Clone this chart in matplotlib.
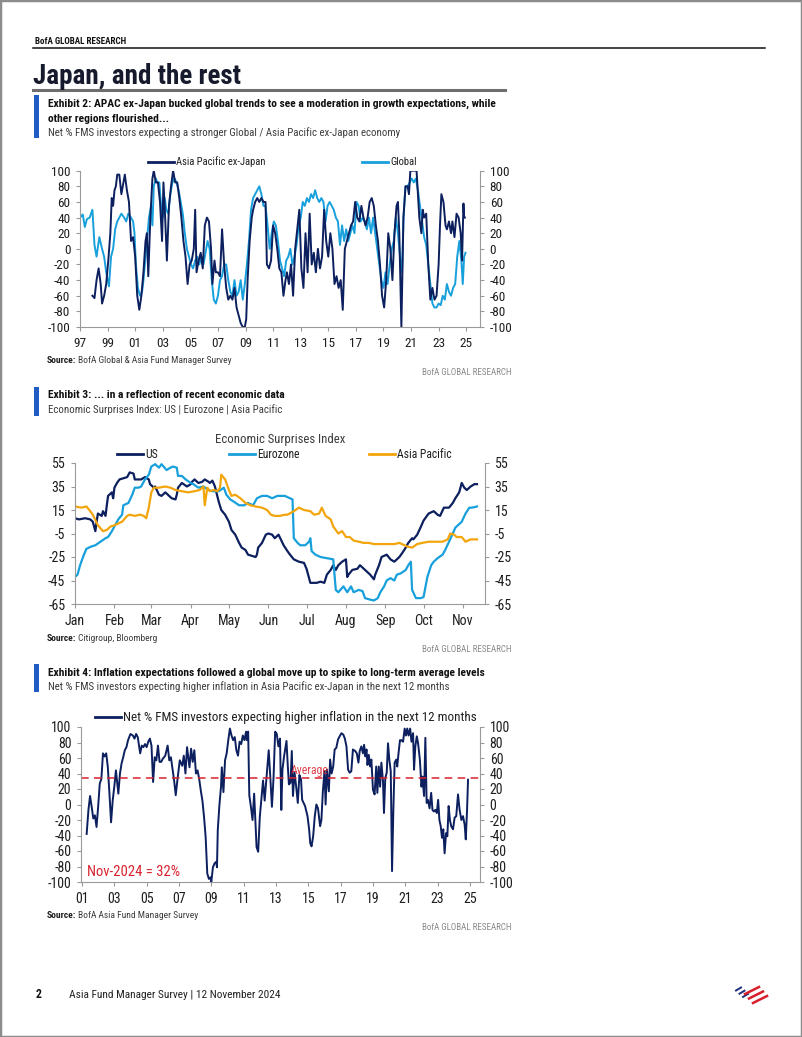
import matplotlib
matplotlib.use('Agg')
import matplotlib.pyplot as plt
from matplotlib.lines import Line2D
from matplotlib.patches import Rectangle

# ---------------- DATA ----------------
# Exhibit 2: Net % expecting stronger economy
GLOBAL_YR = [1997.0, 1997.2, 1997.35, 1997.5, 1997.7, 1997.9, 1998.05, 1998.2, 1998.4, 1998.6, 1998.75, 1998.9,
             1999.1, 1999.25, 1999.4, 1999.55, 1999.7, 1999.85, 2000.0, 2000.2, 2000.35, 2000.5, 2000.7, 2000.85,
             2000.95, 2001.05, 2001.2, 2001.35, 2001.5, 2001.6, 2001.75, 2001.9, 2002.0, 2002.15, 2002.25, 2002.35,
             2002.5, 2002.6, 2002.75, 2002.9, 2003.0, 2003.15, 2003.25, 2003.4, 2003.55, 2003.7, 2003.85, 2004.0,
             2004.15, 2004.3, 2004.45, 2004.6, 2004.75, 2004.9, 2005.05, 2005.2, 2005.35, 2005.5, 2005.65, 2005.8,
             2005.95, 2006.1, 2006.25, 2006.4, 2006.55, 2006.7, 2006.85, 2007.0, 2007.15, 2007.3, 2007.45, 2007.6,
             2007.75, 2007.9, 2008.05, 2008.2, 2008.35, 2008.5, 2008.65, 2008.8, 2008.95, 2009.1, 2009.25, 2009.4,
             2009.55, 2009.7, 2009.85, 2010.0, 2010.15, 2010.3, 2010.45, 2010.6, 2010.75, 2010.9, 2011.05, 2011.2,
             2011.35, 2011.5, 2011.65, 2011.8, 2011.95, 2012.1, 2012.25, 2012.4, 2012.55, 2012.7, 2012.85, 2013.0,
             2013.15, 2013.3, 2013.45, 2013.6, 2013.75, 2013.9, 2014.05, 2014.2, 2014.35, 2014.5, 2014.65, 2014.8,
             2014.95, 2015.1, 2015.25, 2015.4, 2015.55, 2015.7, 2015.85, 2016.0, 2016.15, 2016.3, 2016.45, 2016.6,
             2016.75, 2016.9, 2017.05, 2017.2, 2017.35, 2017.5, 2017.65, 2017.8, 2017.95, 2018.1, 2018.25, 2018.4,
             2018.55, 2018.7, 2018.85, 2019.0, 2019.15, 2019.3, 2019.45, 2019.6, 2019.75, 2019.9, 2020.05, 2020.2,
             2020.35, 2020.45, 2020.6, 2020.75, 2020.9, 2021.05, 2021.2, 2021.35, 2021.5, 2021.65, 2021.8, 2021.95,
             2022.1, 2022.25, 2022.4, 2022.55, 2022.7, 2022.85, 2023.0, 2023.15, 2023.3, 2023.45, 2023.6, 2023.75,
             2023.9, 2024.05, 2024.2, 2024.35, 2024.5, 2024.65, 2024.75, 2024.85, 2024.95]
GLOBAL_VAL = [40, 44, 28, 38, 40, 50, 5, -10, 15, 0, -10, -30,
              -48, -10, 0, 25, 35, 40, 45, 40, 35, 45, 40, 35,
              20, -20, -50, -60, -55, -40, -10, 20, 40, 55, 30, 80,
              90, 85, 85, 50, 40, 65, 50, 45, 70, 85, 90, 85,
              75, 60, 45, 20, 0, -10, -20, -25, -15, -10, -20, -10,
              -20, -5, 10, 0, -40, -65, -70, -60, -40, -35, -20, -20,
              -40, -55, -60, -40, -60, -55, -40, -65, -45, -20, 10, 50,
              65, 70, 75, 80, 70, 55, 55, 30, 0, 20, 35, 30,
              10, -15, -25, -35, -15, -10, 0, -20, -10, 5, 30, 40,
              60, 55, 65, 60, 70, 65, 75, 65, 60, 65, 60, 35,
              55, 60, 55, 50, 40, 35, 5, 30, 10, 25, 10, 20,
              30, 20, 60, 55, 35, 40, 35, 25, 40, 20, 40, 20,
              0, -20, -40, -50, -30, -45, -20, 0, 10, 40, 20, -10,
              -30, 40, 80, 80, 85, 90, 85, 90, 75, 55, 35, 15,
              5, -20, -45, -70, -75, -75, -70, -72, -60, -65, -45, -55,
              -60, -50, -45, -10, 10, -15, -45, -10, -5]

APAC_YR = [1997.9, 1998.05, 1998.2, 1998.35, 1998.5, 1998.6, 1998.75, 1998.9, 1999.05, 1999.2, 1999.3, 1999.4,
           1999.5, 1999.6, 1999.7, 1999.85, 2000.0, 2000.1, 2000.25, 2000.4, 2000.55, 2000.7, 2000.85, 2001.0,
           2001.15, 2001.3, 2001.45, 2001.6, 2001.75, 2001.85, 2001.95, 2002.1, 2002.25, 2002.35, 2002.5, 2002.65,
           2002.8, 2002.95, 2003.05, 2003.15, 2003.3, 2003.45, 2003.6, 2003.75, 2003.9, 2004.05, 2004.2, 2004.35,
           2004.5, 2004.65, 2004.8, 2004.95, 2005.1, 2005.25, 2005.35, 2005.45, 2005.6, 2005.75, 2005.9, 2006.05,
           2006.2, 2006.35, 2006.5, 2006.6, 2006.75, 2006.85, 2007.0, 2007.15, 2007.3, 2007.45, 2007.6, 2007.75,
           2007.9, 2008.05, 2008.2, 2008.35, 2008.5, 2008.65, 2008.8, 2008.95, 2009.05, 2009.15, 2009.3, 2009.45,
           2009.55, 2009.7, 2009.85, 2010.0, 2010.15, 2010.3, 2010.45, 2010.55, 2010.7, 2010.85, 2011.0, 2011.15,
           2011.3, 2011.45, 2011.6, 2011.75, 2011.9, 2012.0, 2012.15, 2012.3, 2012.45, 2012.6, 2012.75, 2012.9,
           2013.05, 2013.2, 2013.35, 2013.5, 2013.65, 2013.8, 2013.95, 2014.1, 2014.25, 2014.4, 2014.55, 2014.7,
           2014.85, 2015.0, 2015.15, 2015.3, 2015.45, 2015.6, 2015.75, 2015.9, 2016.05, 2016.2, 2016.35, 2016.5,
           2016.65, 2016.8, 2016.95, 2017.1, 2017.25, 2017.4, 2017.55, 2017.7, 2017.85, 2018.0, 2018.15, 2018.3,
           2018.45, 2018.6, 2018.75, 2018.9, 2019.05, 2019.2, 2019.35, 2019.5, 2019.65, 2019.8, 2019.95, 2020.05,
           2020.15, 2020.3, 2020.45, 2020.6, 2020.75, 2020.85, 2020.95, 2021.1, 2021.25, 2021.4, 2021.5, 2021.6,
           2021.75, 2021.85, 2021.95, 2022.1, 2022.25, 2022.4, 2022.55, 2022.7, 2022.85, 2023.0, 2023.1, 2023.2,
           2023.35, 2023.5, 2023.6, 2023.75, 2023.9, 2024.0, 2024.15, 2024.3, 2024.45, 2024.6, 2024.7, 2024.8,
           2024.85, 2024.9]
APAC_VAL = [-60, -63, -40, -25, -45, -70, -60, -45, -15, 20, 65, 55,
            75, 80, 95, 95, 70, 80, 95, 75, 60, 10, 15, -10,
            -60, -78, -60, -30, 10, 20, -35, 40, 90, 100, 85, 85,
            60, 10, 85, 50, -15, 55, 80, 100, 85, 85, 65, 40,
            10, -10, -45, -20, -15, 0, 50, -30, -15, -5, -25, 30,
            40, 35, 0, -45, -15, -30, -30, -35, 25, -20, -50, -65,
            -60, -65, -50, -75, -85, -95, -100, -100, -90, -40, 10, 40,
            50, 60, 65, 60, 65, 60, 60, -20, -25, -15, 30, 20,
            0, -25, -30, -60, -40, -30, -45, -20, -60, 0, 25, 50,
            -25, -50, 20, -30, 45, -20, -5, -30, 0, -25, -10, 50,
            10, -10, 20, 0, -45, -35, -50, -40, -78, 0, 10, 20,
            30, 35, 60, 40, 35, 55, 40, 30, 40, 60, 65, 55,
            30, 10, -20, -60, -75, -40, 20, 0, -40, 20, 55, 60,
            20, -100, 40, 80, 80, 70, 100, 100, 100, 100, 70, 40,
            20, 50, 40, 45, -20, -65, -50, -65, -60, -20, 30, 70,
            60, 30, 25, 35, 20, 35, 15, 45, 40, 20, -15, 58,
            40, 40]

# Exhibit 3: Economic Surprises Index (day of year 2024)
MONTHS = ['Jan', 'Feb', 'Mar', 'Apr', 'May', 'Jun', 'Jul', 'Aug', 'Sep', 'Oct', 'Nov']
MONTH_DAY = [0, 31, 60, 91, 121, 152, 182, 213, 244, 274, 305]
US_DAY = [0, 3, 8, 12, 14, 16, 17, 18, 21, 22, 24, 25, 26, 29, 30, 31, 33, 35, 38, 41, 43, 46, 47, 52, 55, 58,
          59, 62, 63, 66, 68, 71, 73, 76, 79, 80, 81, 84, 88, 91, 92, 94, 97, 100, 102, 105, 106, 108, 110,
          113, 115, 118, 121, 123, 126, 129, 131, 134, 136, 142, 143, 144, 147, 150, 152, 155, 157, 160,
          164, 167, 169, 172, 176, 180, 182, 185, 190, 193, 196, 198, 201, 203, 205, 207, 210, 213, 214, 215,
          218, 222, 224, 227, 230, 232, 235, 236, 239, 241, 245, 248, 251, 255, 257, 260, 262, 265, 266, 269,
          272, 274, 278, 282, 285, 287, 290, 294, 297, 299, 302, 304, 306, 308, 311, 314, 316]
US_VAL = [8, 7, 8, 7, 5, -3, 5, 12, 10, 14, 10, 19, 27, 30, 25, 34, 38, 41, 42, 43, 47, 46, 41, 41, 43, 41,
          37, 34, 35, 28, 27, 30, 28, 25, 24, 28, 34, 38, 35, 37, 39, 41, 38, 39, 41, 39, 38, 40, 35,
          22, 15, 11, 5, -2, -6, -13, -17, -19, -23, -25, -23, -17, -13, -6, -5, -6, -9, -6,
          -15, -20, -23, -27, -29, -30, -35, -47, -47, -46, -47, -40, -36, -32, -36, -32, -29, -27, -42, -40,
          -36, -35, -32, -35, -38, -40, -44, -40, -32, -25, -23, -27, -29, -25, -22, -17, -13, -9, -10, -6,
          1, 6, 12, 14, 11, 10, 17, 17, 21, 25, 30, 38, 34, 32, 35, 37, 37]
EZ_DAY = [0, 2, 4, 7, 9, 13, 16, 20, 24, 26, 29, 31, 34, 37, 38, 42, 45, 47, 50, 52, 55, 58, 60, 63, 66, 68,
          72, 75, 77, 80, 81, 84, 87, 91, 93, 97, 101, 105, 108, 113, 117, 119, 122, 125, 129, 133, 136, 140,
          143, 147, 151, 155, 159, 163, 165, 169, 171, 172, 175, 177, 181, 184, 185, 186, 189, 193, 198, 203,
          205, 207, 211, 214, 217, 219, 223, 226, 228, 231, 235, 238, 240, 243, 245, 248, 251, 253, 256, 260,
          262, 264, 265, 268, 272, 274, 277, 280, 282, 285, 289, 291, 294, 297, 299, 302, 304, 307, 310, 312, 316]
EZ_VAL = [-42, -40, -32, -23, -18, -16, -15, -12, -9, -8, -3, 1, 7, 11, 19, 21, 28, 34, 34, 35, 41, 45, 52, 54,
          51, 54, 49, 51, 52, 51, 44, 44, 41, 38, 37, 34, 35, 32, 31, 31, 34, 28, 24, 22, 19, 19, 21, 19,
          25, 27, 27, 25, 27, 27, 27, 25, 24, -9, -13, -15, -15, -12, -9, -20, -23, -25, -26, -27,
          -53, -55, -50, -55, -50, -55, -53, -54, -60, -61, -62, -60, -55, -50, -45, -43, -45, -40, -39, -36,
          -32, -29, -53, -60, -60, -59, -42, -32, -29, -26, -23, -19, -12, -5, 0, 3, 5, 12, 17, 17, 18]
AP_DAY = [0, 5, 9, 12, 14, 18, 22, 25, 28, 31, 37, 41, 43, 47, 51, 54, 56, 58, 60, 62, 66, 71, 75, 79, 84, 89,
          94, 98, 101, 102, 104, 106, 109, 112, 114, 115, 118, 121, 123, 126, 130, 134, 138, 142, 147, 151,
          154, 157, 161, 165, 167, 172, 176, 180, 185, 188, 192, 194, 197, 201, 203, 207, 210, 213, 216, 219,
          223, 227, 231, 235, 240, 245, 251, 255, 257, 261, 265, 269, 273, 278, 284, 289, 293, 295, 298, 300,
          304, 307, 311, 316]
AP_VAL = [18, 17, 18, 14, 11, 2, -3, -2, 1, 2, 5, 10, 11, 10, 11, 10, 8, 17, 30, 34, 34, 35, 34, 32, 31, 30,
          31, 32, 35, 19, 34, 31, 32, 31, 34, 45, 41, 32, 27, 28, 25, 21, 19, 18, 17, 15,
          11, 10, 10, 11, 11, 14, 17, 15, 14, 11, 12, 17, 10, 7, 1, -5, -3, -8, -8, -11,
          -12, -13, -13, -14, -14, -14, -14, -13, -14, -16, -17, -14, -13, -12, -12, -12, -10, -5, -6, -8,
          -8, -12, -10, -10]

# Exhibit 4: Net % expecting higher inflation
INF_YR = [2001.29, 2001.4, 2001.5, 2001.6, 2001.7, 2001.8, 2001.9, 2002.0, 2002.1, 2002.2, 2002.3, 2002.4,
          2002.5, 2002.6, 2002.7, 2002.8, 2002.9, 2003.0, 2003.1, 2003.25, 2003.35, 2003.45, 2003.55, 2003.65,
          2003.75, 2003.85, 2004.0, 2004.15, 2004.25, 2004.35, 2004.45, 2004.6, 2004.7, 2004.8, 2004.9, 2005.0,
          2005.1, 2005.2, 2005.3, 2005.4, 2005.5, 2005.6, 2005.7, 2005.8, 2005.9, 2006.0, 2006.15, 2006.3,
          2006.4, 2006.5, 2006.6, 2006.7, 2006.8, 2006.9, 2007.05, 2007.2, 2007.3, 2007.4, 2007.5, 2007.65,
          2007.75, 2007.85, 2007.95, 2008.05, 2008.15, 2008.25, 2008.35, 2008.45, 2008.55, 2008.65, 2008.75,
          2008.85, 2008.95, 2009.0, 2009.1, 2009.2, 2009.3, 2009.35, 2009.4, 2009.5, 2009.6, 2009.65, 2009.75,
          2009.85, 2009.95, 2010.05, 2010.15, 2010.25, 2010.35, 2010.45, 2010.55, 2010.65, 2010.75, 2010.85,
          2010.95, 2011.05, 2011.15, 2011.2, 2011.28, 2011.35, 2011.45, 2011.55, 2011.65, 2011.8, 2011.9,
          2012.0, 2012.2, 2012.3, 2012.4, 2012.55, 2012.65, 2012.75, 2012.85, 2012.95, 2013.05, 2013.15,
          2013.25, 2013.33, 2013.4, 2013.5, 2013.65, 2013.72, 2013.8, 2013.9, 2013.98, 2014.05, 2014.15,
          2014.25, 2014.35, 2014.45, 2014.55, 2014.62, 2014.8, 2014.95, 2015.05, 2015.12, 2015.2, 2015.3,
          2015.4, 2015.5, 2015.6, 2015.73, 2015.81, 2015.9, 2016.0, 2016.07, 2016.15, 2016.27, 2016.35,
          2016.44, 2016.54, 2016.63, 2016.73, 2016.84, 2016.94, 2017.05, 2017.17, 2017.26, 2017.36, 2017.46,
          2017.56, 2017.66, 2017.76, 2017.9, 2018.0, 2018.1, 2018.18, 2018.28, 2018.38, 2018.45, 2018.53,
          2018.6, 2018.66, 2018.74, 2018.82, 2018.9, 2019.0, 2019.1, 2019.2, 2019.27, 2019.36, 2019.44,
          2019.52, 2019.62, 2019.68, 2019.76, 2019.85, 2019.93, 2020.01, 2020.1, 2020.18, 2020.26, 2020.34,
          2020.44, 2020.5, 2020.58, 2020.67, 2020.75, 2020.86, 2020.96, 2021.04, 2021.12, 2021.2, 2021.3,
          2021.38, 2021.48, 2021.54, 2021.62, 2021.71, 2021.79, 2021.9, 2022.0, 2022.06, 2022.16, 2022.24,
          2022.32, 2022.4, 2022.5, 2022.6, 2022.68, 2022.77, 2022.86, 2022.95, 2023.03, 2023.11, 2023.19,
          2023.27, 2023.35, 2023.43, 2023.52, 2023.6, 2023.68, 2023.76, 2023.84, 2023.95, 2024.05, 2024.15,
          2024.26, 2024.36, 2024.47, 2024.57, 2024.67, 2024.74, 2024.82, 2024.88]
INF_VAL = [-38, -7, 11, -3, -18, -14, -29, -3, 27, 33, 66, 62,
           66, 48, 14, -23, 5, 23, 44, 14, 40, 53, 61, 70,
           74, 83, 91, 89, 85, 91, 87, 66, 76, 74, 78, 74,
           81, 85, 76, 29, 61, 57, 76, 55, 55, 59, 63, 76,
           57, 61, 46, 31, 12, 31, 57, 50, 63, 40, 74, 48,
           72, 55, 70, 40, 44, 33, 18, 5, -16, -42, -89,
           -96, -94, -100, -81, -76, -74, -81, -33, -1, 23, 48, 16,
           57, 66, 83, 98, 89, 83, 87, 70, 63, 81, 78,
           89, 83, 94, 83, 94, 12, -3, -20, 14, -55, -61,
           -16, 31, 5, 31, 70, 35, -3, 35, 94, 91, 75,
           85, -7, 45, 62, 82, 54, 26, 28, 69, 11, 41,
           23, 2, 38, 32, 6, -2, -15, -32, -50, -54, -41,
           -15, 0, -5, -28, -20, 17, 43, 0, 45, 17, 58,
           40, 49, 71, 73, 84, 88, 92, 90, 85, 75, 45,
           41, 43, 71, 69, 66, 54, 69, 75, 66, 77, 62,
           71, 51, 64, 49, 58, 19, 13, 49, 15, 49, 23,
           54, 30, -11, 34, 41, 79, 58, 43, -86, -7, 54,
           58, 49, 66, 83, 83, 81, 98, 89, 98, 89, 98,
           81, 92, 45, 75, 88, 79, 58, 23, 36, 11, 86,
           2, 6, -5, 15, -7, -9, -7, -11, 6, -20, -28,
           -43, -32, -63, -37, -41, -2, -20, -28, -32, -17, -15,
           13, -7, -20, -15, -26, -45, -7, 32]
INF_AVERAGE = 34
LAST_LABEL = 'Nov-2024 = 32%'

assert len(GLOBAL_YR) == len(GLOBAL_VAL)
assert len(APAC_YR) == len(APAC_VAL)
assert len(US_DAY) == len(US_VAL)
assert len(EZ_DAY) == len(EZ_VAL)
assert len(AP_DAY) == len(AP_VAL)
assert len(INF_YR) == len(INF_VAL)

# ---------------- STYLE ----------------
plt.rcParams['font.family'] = ['Roboto Condensed', 'DejaVu Sans']

NAVY = '#0c1f5e'
LIGHT = '#17a0dc'
ORANGE = '#f2a50c'
RED = '#d9232e'
GRAY = '#9a9a9a'
TXT = '#1e1e1e'
SUB = '#3c3c3c'
BAR = '#1f5cc4'

W, H = 802, 1037
fig = plt.figure(figsize=(W / 100, H / 100), dpi=100)


def fx(x):
    return x / W


def fy(y):
    return 1 - y / H


def rect(l, t, r, b):
    return [l / W, 1 - b / H, (r - l) / W, (b - t) / H]


def hline(x0, x1, y, color, lw):
    fig.add_artist(Line2D([fx(x0), fx(x1)], [fy(y), fy(y)], color=color, lw=lw))


def legend_item(x0, x1, y, color, text, fs):
    fig.add_artist(Line2D([fx(x0), fx(x1)], [fy(y), fy(y)], color=color, lw=2.0))
    fig.text(fx(x1 + 2), fy(y), text, fontsize=fs, color=TXT, va='center', ha='left')


renderer = fig.canvas.get_renderer()


def source(y, text):
    t = fig.text(fx(47), fy(y), 'Source:', fontsize=6.8, weight='bold', color=TXT, va='center')
    bb = t.get_window_extent(renderer=renderer)
    fig.text((bb.x1 + 2) / W, fy(y), text, fontsize=6.8, color=SUB, va='center')


def bofa_tag(y):
    fig.text(fx(512), fy(y), 'BofA GLOBAL RESEARCH', fontsize=6.5, color='#8a8a8a', va='center', ha='right')


def exhibit_header(top, bottom, lines, sub):
    fig.add_artist(Rectangle((fx(34), fy(bottom)), 5 / W, (bottom - top) / H, color=BAR, lw=0))
    for yy, s in lines:
        fig.text(fx(48), fy(yy), s, fontsize=8.25, weight='bold', color='#111111', va='center')
    fig.text(fx(48), fy(sub[0]), sub[1], fontsize=7.8, color=SUB, va='center')


def style_axes(ax, fs):
    ax.spines['top'].set_visible(False)
    for s in ['left', 'right', 'bottom']:
        ax.spines[s].set_color(GRAY)
        ax.spines[s].set_linewidth(0.8)
    ax.tick_params(axis='both', colors=GRAY, labelcolor=TXT, labelsize=fs, length=3, width=0.8, direction='out')
    ax.tick_params(axis='y', left=True, right=True, labelleft=True, labelright=True, pad=4)
    ax.tick_params(axis='x', pad=4)


# ---------------- PAGE ----------------
fig.add_artist(Rectangle((0, 0), 1, 1, transform=fig.transFigure, fill=False, edgecolor='#8c8c8c', lw=2.5))
fig.text(fx(35), fy(41.5), 'BofA GLOBAL RESEARCH', fontsize=6.5, weight='bold', color='#111111', va='center')
hline(33, 765, 47.5, '#111111', 1.1)
fig.text(fx(33), fy(76), 'Japan, and the rest', fontsize=19.5, weight='bold', color='#161a2c', va='center')
hline(33, 505, 89.5, '#6e6e6e', 2.2)

# ---------------- EXHIBIT 2 ----------------
exhibit_header(95, 138, [(103.5, 'Exhibit 2: APAC ex-Japan bucked global trends to see a moderation in growth expectations, while'),
                         (118.5, 'other regions flourished...')],
               (132.5, 'Net % FMS investors expecting a stronger Global / Asia Pacific ex-Japan economy'))

ax1 = fig.add_axes(rect(80, 170.7, 480, 327))
ax1.plot(GLOBAL_YR, GLOBAL_VAL, color=LIGHT, lw=1.4)
ax1.plot(APAC_YR, APAC_VAL, color=NAVY, lw=1.4)
ax1.set_xlim(1997, 2026)
ax1.set_ylim(-100, 100)
yt1 = list(range(-100, 101, 20))
ax1.set_yticks(yt1)
ax1.set_yticklabels([str(v) for v in yt1])
xt1 = list(range(1997, 2026, 2))
ax1.set_xticks(xt1)
ax1.set_xticklabels(['%02d' % (v % 100) for v in xt1])
style_axes(ax1, 9.5)
legend_item(148, 174, 161.5, NAVY, 'Asia Pacific ex-Japan', 7.6)
legend_item(362, 388, 161.5, LIGHT, 'Global', 7.6)
source(360.5, 'BofA Global & Asia Fund Manager Survey')
bofa_tag(372.5)

# ---------------- EXHIBIT 3 ----------------
exhibit_header(387, 416, [(395.5, 'Exhibit 3: ... in a reflection of recent economic data')],
               (409.5, 'Economic Surprises Index: US | Eurozone | Asia Pacific'))

ax2 = fig.add_axes(rect(75, 463, 485, 604))
ax2.plot(US_DAY, US_VAL, color=NAVY, lw=1.6)
ax2.plot(EZ_DAY, EZ_VAL, color=LIGHT, lw=1.6)
ax2.plot(AP_DAY, AP_VAL, color=ORANGE, lw=1.6)
ax2.set_xlim(0, 322.3)
ax2.set_ylim(-65, 55)
yt2 = list(range(-65, 56, 20))
ax2.set_yticks(yt2)
ax2.set_yticklabels([str(v) for v in yt2])
ax2.set_xticks(MONTH_DAY)
ax2.set_xticklabels(MONTHS)
style_axes(ax2, 10)
fig.text(fx(280.5), fy(440), 'Economic Surprises Index', fontsize=9.2, color=SUB, ha='center', va='center')
legend_item(117, 143, 454, NAVY, 'US', 8.4)
legend_item(229, 255, 454, LIGHT, 'Eurozone', 8.4)
legend_item(369, 395, 454, ORANGE, 'Asia Pacific', 8.4)
source(638.5, 'Citigroup, Bloomberg')
bofa_tag(649.5)

# ---------------- EXHIBIT 4 ----------------
exhibit_header(664, 692, [(672.5, 'Exhibit 4: Inflation expectations followed a global move up to spike to long-term average levels')],
               (687, 'Net % FMS investors expecting higher inflation in Asia Pacific ex-Japan in the next 12 months'))

ax3 = fig.add_axes(rect(81, 727, 480, 882))
ax3.plot(INF_YR, INF_VAL, color=NAVY, lw=1.4)
ax3.axhline(INF_AVERAGE, color=RED, lw=1.1, dashes=(5, 3.5))
ax3.set_xlim(2000.94, 2025.62)
ax3.set_ylim(-100, 100)
yt3 = list(range(-100, 101, 20))
ax3.set_yticks(yt3)
ax3.set_yticklabels([str(v) for v in yt3])
xt3 = list(range(2001, 2026, 2))
ax3.set_xticks(xt3)
ax3.set_xticklabels(['%02d' % (v % 100) for v in xt3])
style_axes(ax3, 10)
ax3.text(2015.1, INF_AVERAGE + 2, 'Average', color=RED, fontsize=8.5, ha='center', va='bottom', alpha=0.85)
ax3.text(0.015, 0.065, LAST_LABEL, transform=ax3.transAxes, color=RED, fontsize=10.5, ha='left', va='center')
legend_item(95, 121, 717, NAVY, 'Net % FMS investors expecting higher inflation in the next 12 months', 9.4)
source(916, 'BofA Asia Fund Manager Survey')
bofa_tag(927)

# ---------------- FOOTER ----------------
fig.text(fx(36), fy(995), '2', fontsize=8.5, weight='bold', color='#111111', va='center')
fig.text(fx(69), fy(995), 'Asia Fund Manager Survey | 12 November 2024', fontsize=8.2, color='#222222', va='center')
# small BofA flag mark
for i in range(3):
    x0 = 736 + i * 3.5
    y0 = 989 + i * 3.2
    fig.add_artist(Line2D([fx(x0), fx(x0 + 5)], [fy(y0 + 1.5), fy(y0 - 1.5)], color='#1d2f7a', lw=1.4))
for i in range(3):
    x0 = 745 + i * 4
    y0 = 990 + i * 4.5
    fig.add_artist(Line2D([fx(x0), fx(x0 + 14)], [fy(y0 + 4), fy(y0 - 3)], color='#d8202c', lw=1.8))

fig.savefig('out.png', dpi=100)
